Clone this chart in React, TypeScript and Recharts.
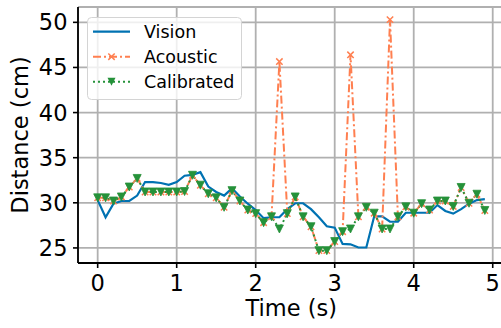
import { LineChart, Line, XAxis, YAxis, CartesianGrid, Legend } from "recharts";

// time axis (s)
const times = [
  0, 0.1, 0.2, 0.3, 0.4, 0.5, 0.6, 0.7, 0.8, 0.9,
  1, 1.1, 1.2, 1.3, 1.4, 1.5, 1.6, 1.7, 1.8, 1.9,
  2, 2.1, 2.2, 2.3, 2.4, 2.5, 2.6, 2.7, 2.8, 2.9,
  3, 3.1, 3.2, 3.3, 3.4, 3.5, 3.6, 3.7, 3.8, 3.9,
  4, 4.1, 4.2, 4.3, 4.4, 4.5, 4.6, 4.7, 4.8, 4.9,
];

// distance readings (cm)
const vision = [
  30.3, 28.4, 29.9, 30.2, 30.2, 30.8, 32.3, 32.3, 32.2, 32.0,
  32.3, 33.0, 33.1, 33.4, 31.8, 31.2, 30.8, 31.6, 30.7, 29.9,
  29.2, 28.3, 28.4, 28.4, 29.3, 29.95, 29.95, 29.3, 28.4, 27.4,
  27.25, 25.45, 25.4, 25.05, 25.05, 28.5, 28.5, 27.9, 27.9, 28.9,
  28.9, 28.9, 28.9, 29.75, 29.1, 28.8, 29.3, 29.9, 30.3, 30.4,
];
const acoustic = [
  30.55, 30.55, 30.2, 30.65, 31.75, 32.7, 31.2, 31.2, 31.2, 31.2,
  31.2, 31.25, 33.05, 31.95, 31.0, 30.55, 29.5, 31.35, 30.2, 29.2,
  28.8, 27.8, 28.45, 45.65, 28.8, 30.65, 28.45, 27.35, 24.7, 24.7,
  25.7, 26.8, 46.4, 28.45, 29.5, 28.85, 27.1, 50.3, 28.45, 29.55,
  28.85, 29.9, 29.2, 30.2, 30.2, 29.6, 31.7, 29.95, 30.95, 29.15,
];
const calibrated = [
  30.55, 30.55, 30.2, 30.65, 31.75, 32.7, 31.2, 31.2, 31.2, 31.2,
  31.2, 31.25, 33.05, 31.95, 31.0, 30.55, 29.5, 31.35, 30.2, 29.2,
  28.8, 27.8, 28.45, 27.1, 28.8, 30.65, 28.45, 27.35, 24.7, 24.7,
  25.7, 26.8, 27.1, 28.45, 29.5, 28.85, 27.1, 27.1, 28.45, 29.55,
  28.85, 29.9, 29.2, 30.2, 30.2, 29.6, 31.7, 29.95, 30.95, 29.15,
];

const xTicks = [0, 1, 2, 3, 4, 5];
const yTicks = [25, 30, 35, 40, 45, 50];

const data = times.map((t, i) => ({
  t,
  vision: vision[i],
  acoustic: acoustic[i],
  calibrated: calibrated[i],
}));

const BLUE = "#0072b2";
const ORANGE = "#ff7f50";
const GREEN = "#25923a";
const FONT = "DejaVu Sans";
const tickStyle = { fontSize: 22.5, fill: "#000", fontFamily: FONT };

const crossDot = (p: any) => {
  const { cx, cy, index } = p;
  const r = 3.2;
  return (
    <path
      key={"x" + index}
      d={`M${cx - r},${cy - r}L${cx + r},${cy + r}M${cx - r},${cy + r}L${cx + r},${cy - r}`}
      stroke={ORANGE}
      strokeWidth={1.5}
      fill="none"
    />
  );
};

const triDot = (p: any) => {
  const { cx, cy, index } = p;
  const r = 4;
  return (
    <path
      key={"v" + index}
      d={`M${cx - r},${cy - r}L${cx + r},${cy - r}L${cx},${cy + r}Z`}
      fill={GREEN}
      stroke={GREEN}
      strokeWidth={0.8}
    />
  );
};

function LegendBox() {
  const rows = [14.7, 39.7, 64.7];
  return (
    <svg width={156} height={84} style={{ display: "block" }}>
      <rect x={0.5} y={0.5} width={154} height={82} rx={4} fill="#fff" fillOpacity={0.8} stroke="#d4d4d4" />
      <line x1={6} x2={43} y1={rows[0]} y2={rows[0]} stroke={BLUE} strokeWidth={2.2} />
      <line x1={6} x2={43} y1={rows[1]} y2={rows[1]} stroke={ORANGE} strokeWidth={2} strokeDasharray="8 3 2 3" />
      <path d={`M21.3,${rows[1] - 3.2}L27.7,${rows[1] + 3.2}M21.3,${rows[1] + 3.2}L27.7,${rows[1] - 3.2}`} stroke={ORANGE} strokeWidth={1.5} />
      <line x1={6} x2={43} y1={rows[2]} y2={rows[2]} stroke={GREEN} strokeWidth={2} strokeDasharray="2 3" />
      <path d={`M20.5,${rows[2] - 4}L28.5,${rows[2] - 4}L24.5,${rows[2] + 4}Z`} fill={GREEN} />
      {["Vision", "Acoustic", "Calibrated"].map((s, i) => (
        <text key={s} x={57} y={rows[i] + 6.4} fontSize={17.5} fontFamily={FONT} fill="#000">
          {s}
        </text>
      ))}
    </svg>
  );
}

export default function App() {
  return (
    <div style={{ position: "absolute", left: 0, top: 0, width: 501, height: 328, overflow: "hidden", background: "#fff" }}>
      <LineChart width={520} height={328} data={data} margin={{ top: 7, right: 15.5, bottom: 20, left: 18 }}>
        <CartesianGrid stroke="#b0b0b0" strokeWidth={1.8} />
        <XAxis
          xAxisId="top"
          orientation="top"
          dataKey="t"
          type="number"
          domain={[-0.249, 5.149]}
          allowDataOverflow
          height={0}
          tick={false}
          tickLine={false}
          axisLine={{ stroke: "#000", strokeWidth: 1.8 }}
        />
        <XAxis
          dataKey="t"
          type="number"
          domain={[-0.249, 5.149]}
          ticks={xTicks}
          allowDataOverflow
          height={45}
          tick={tickStyle}
          tickSize={5}
          tickMargin={7}
          tickLine={{ stroke: "#000", strokeWidth: 1.6 }}
          axisLine={{ stroke: "#000", strokeWidth: 1.8 }}
          label={{
            content: (p: any) => (
              <text
                x={p.viewBox.x + p.viewBox.width / 2}
                y={315.5}
                textAnchor="middle"
                fontSize={22.5}
                fontFamily={FONT}
                fill="#000"
              >
                Time (s)
              </text>
            ),
          }}
        />
        <YAxis
          type="number"
          domain={[23.33, 51.7]}
          ticks={yTicks}
          allowDataOverflow
          width={60}
          tick={tickStyle}
          tickSize={5}
          tickMargin={5.5}
          tickLine={{ stroke: "#000", strokeWidth: 1.6 }}
          axisLine={{ stroke: "#000", strokeWidth: 1.8 }}
          label={{
            content: () => (
              <text
                x={27.5}
                y={135}
                transform="rotate(-90, 27.5, 135)"
                textAnchor="middle"
                fontSize={22.5}
                fontFamily={FONT}
                fill="#000"
              >
                Distance (cm)
              </text>
            ),
          }}
        />
        <Legend
          layout="vertical"
          align="center"
          verticalAlign="middle"
          content={() => <LegendBox />}
          wrapperStyle={{ left: 87, top: 17, width: 156, height: 84 }}
        />
        <Line
          dataKey="vision"
          name="Vision"
          type="linear"
          stroke={BLUE}
          strokeWidth={2.2}
          dot={false}
          isAnimationActive={false}
        />
        <Line
          dataKey="acoustic"
          name="Acoustic"
          type="linear"
          stroke={ORANGE}
          strokeWidth={2}
          strokeDasharray="8 3 2 3"
          dot={crossDot}
          activeDot={false}
          isAnimationActive={false}
        />
        <Line
          dataKey="calibrated"
          name="Calibrated"
          type="linear"
          stroke={GREEN}
          strokeWidth={2}
          strokeDasharray="2 3"
          dot={triDot}
          activeDot={false}
          isAnimationActive={false}
        />
      </LineChart>
    </div>
  );
}
